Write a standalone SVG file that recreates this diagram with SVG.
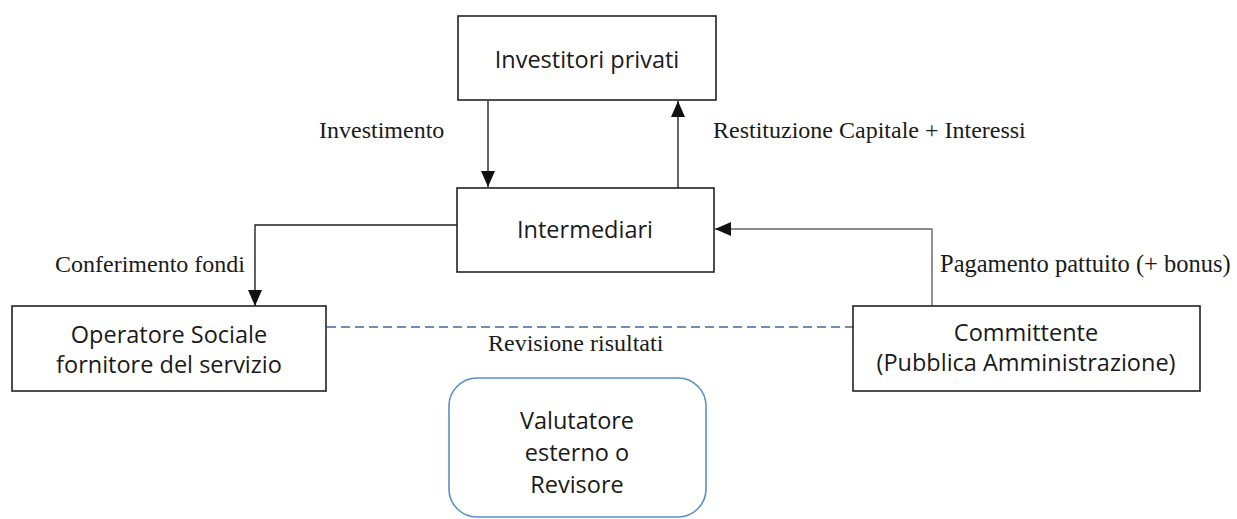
<svg xmlns="http://www.w3.org/2000/svg" width="1237" height="519" viewBox="0 0 1237 519">
<style>
.box{fill:#ffffff;stroke:#222222;stroke-width:1.6}
.rbox{fill:#ffffff;stroke:#5b8ec4;stroke-width:1.6}
.sans{font-family:"Open Sans","Noto Sans","DejaVu Sans",sans-serif;font-size:23.5px;fill:#1a1a1a;text-anchor:middle}
.serif{font-family:"Liberation Serif","Times New Roman",serif;font-size:24px;fill:#1a1a1a}
.conn{fill:none;stroke:#222222;stroke-width:1.4}
.conn-grey{fill:none;stroke:#666666;stroke-width:1.4}
.dash{fill:none;stroke:#6a90b8;stroke-width:2;stroke-dasharray:9 5}
</style>
<defs>
<marker id="arrow" markerUnits="userSpaceOnUse" markerWidth="16" markerHeight="14" refX="16" refY="7" orient="auto">
<path d="M0,0 L16,7 L0,14 Z" fill="#111111"/>
</marker>
</defs>
<rect width="1237" height="519" fill="#ffffff"/>
<g id="connectors">
<line class="conn" x1="488" y1="101" x2="488" y2="187" marker-end="url(#arrow)"/>
<line class="conn" x1="678" y1="188" x2="678" y2="101" marker-end="url(#arrow)"/>
<polyline class="conn" points="457,225 255,225 255,306" marker-end="url(#arrow)"/>
<polyline class="conn-grey" points="932,306 932,229 715,229" marker-end="url(#arrow)"/>
<line class="dash" x1="327" y1="327" x2="853" y2="327"/>
<text class="serif" x="319" y="138">Investimento</text>
<text class="serif" x="713" y="138">Restituzione Capitale + Interessi</text>
<text class="serif" x="55" y="272">Conferimento fondi</text>
<text class="serif" x="940" y="272" style="font-size:24.5px">Pagamento pattuito (+ bonus)</text>
<text class="serif" x="488" y="351">Revisione risultati</text>
</g>
<g id="investitori">
<rect class="box" x="458" y="16" width="258" height="84"/>
<text class="sans" x="587" y="68">Investitori privati</text>
</g>
<g id="intermediari">
<rect class="box" x="457" y="188" width="257" height="84"/>
<text class="sans" x="585" y="238">Intermediari</text>
</g>
<g id="operatore">
<rect class="box" x="12" y="306" width="314" height="85"/>
<text class="sans" x="169" y="343">Operatore Sociale</text>
<text class="sans" x="169" y="373">fornitore del servizio</text>
</g>
<g id="committente">
<rect class="box" x="853" y="306" width="347" height="85"/>
<text class="sans" x="1026" y="341">Committente</text>
<text class="sans" x="1026" y="371">(Pubblica Amministrazione)</text>
</g>
<g id="valutatore">
<rect class="rbox" x="449" y="378" width="257" height="139" rx="28" ry="28"/>
<text class="sans" x="577" y="429">Valutatore</text>
<text class="sans" x="577" y="461">esterno o</text>
<text class="sans" x="577" y="493">Revisore</text>
</g>
</svg>
